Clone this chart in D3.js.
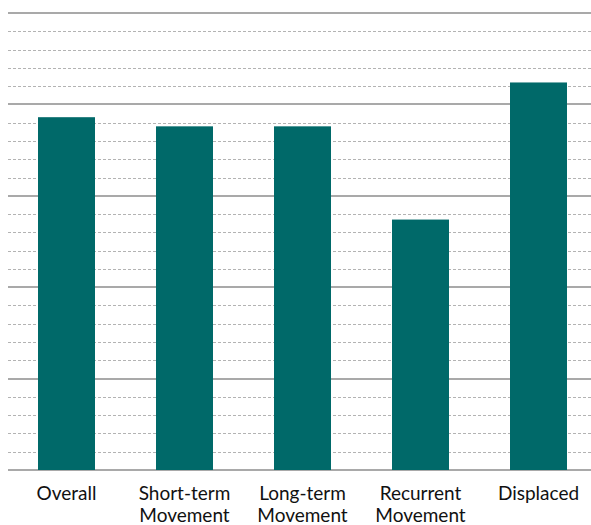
<!DOCTYPE html>
<html>
<head>
<meta charset="utf-8">
<script src="https://cdn.jsdelivr.net/npm/d3@7"></script>
<style>
  body { margin: 0; background: #fff; }
  svg { display: block; }
  .label { font-family: Lato, "Open Sans", sans-serif; font-size: 19px; fill: #111; }
</style>
</head>
<body>
<svg width="591" height="525"></svg>
<script>
// Chart data (unit = one minor gridline step)
const categories = ["Overall", "Short-term Movement", "Long-term Movement", "Recurrent Movement", "Displaced"];
const labelLines = [["Overall"], ["Short-term", "Movement"], ["Long-term", "Movement"], ["Recurrent", "Movement"], ["Displaced"]];
const values = [19.3, 18.8, 18.8, 13.7, 21.2];
const minorTicks = d3.range(0, 26, 1);
const majorTicks = d3.range(0, 26, 5);

const svg = d3.select("svg");
const width = +svg.attr("width");

const x = d3.scaleBand()
  .domain(categories)
  .range([7.5, 597.5])
  .paddingInner(0.517)
  .paddingOuter(0.2585);

const y = d3.scaleLinear()
  .domain([0, 25])
  .range([470, 13]);

// Minor dashed gridlines
svg.append("g")
  .selectAll("line")
  .data(minorTicks.filter(t => t % 5 !== 0))
  .enter()
  .append("line")
  .attr("x1", 8)
  .attr("x2", width)
  .attr("y1", d => Math.round(y(d)) + 0.5)
  .attr("y2", d => Math.round(y(d)) + 0.5)
  .attr("stroke", "#b3b3b3")
  .attr("stroke-width", 1)
  .attr("stroke-dasharray", "3,2");

// Major solid gridlines
svg.append("g")
  .selectAll("line")
  .data(majorTicks)
  .enter()
  .append("line")
  .attr("x1", 8)
  .attr("x2", width)
  .attr("y1", d => Math.round(y(d)))
  .attr("y2", d => Math.round(y(d)))
  .attr("stroke", "#8c8c8c")
  .attr("stroke-width", 1.6);

// Bars
svg.append("g")
  .selectAll("rect")
  .data(values)
  .enter()
  .append("rect")
  .attr("x", (d, i) => x(categories[i]))
  .attr("width", x.bandwidth())
  .attr("y", d => y(d))
  .attr("height", d => y(0) - y(d))
  .attr("fill", "#006969");

// Category labels
const labels = svg.append("g")
  .selectAll("text")
  .data(categories)
  .enter()
  .append("text")
  .attr("class", "label")
  .attr("text-anchor", "middle")
  .attr("x", d => x(d) + x.bandwidth() / 2)
  .attr("y", 500);

labels.selectAll("tspan")
  .data((d, i) => labelLines[i])
  .enter()
  .append("tspan")
  .attr("x", function () { return this.parentNode.getAttribute("x"); })
  .attr("dy", (d, i) => (i === 0 ? 0 : 22))
  .text(d => d);
</script>
</body>
</html>
